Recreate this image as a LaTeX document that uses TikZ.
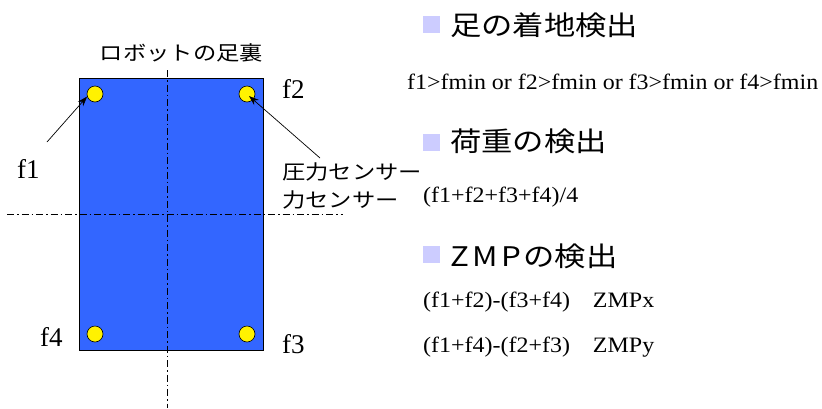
\documentclass[tikz,border=0pt]{standalone}
\usepackage{fontspec}
\usepackage{graphicx}
\setmainfont{Liberation Serif}
\newfontfamily\jp{Noto Sans CJK JP}
\usetikzlibrary{arrows.meta,calc}
\definecolor{footblue}{HTML}{3366FF}
\definecolor{bulletlav}{HTML}{CCCCFF}
\tikzset{
  sensor/.style={circle,draw=black,line width=0.6pt,fill=yellow,minimum size=16pt,inner sep=0pt},
  axisline/.style={line width=0.7pt,dash pattern=on 7pt off 3pt on 1.5pt off 3pt},
  pointer/.style={line width=0.7pt,-{Stealth[length=10pt,width=7pt]}},
  flabel/.style={anchor=base west,inner sep=0pt,font=\fontsize{27}{27}\selectfont},
  jlabel/.style={anchor=west,inner sep=0pt,font=\jp\fontsize{20}{20}\selectfont},
  title/.style={anchor=west,inner sep=0pt,font=\jp\fontsize{27}{27}\selectfont},
  formula/.style={anchor=base west,inner sep=0pt,font=\fontsize{22}{22}\selectfont},
  bullet/.style={fill=bulletlav,draw=none,minimum size=17pt,inner sep=0pt}
}
\newcommand{\wide}[2]{\scalebox{#1}[1]{#2}}
\begin{document}
\begin{tikzpicture}[x=1pt,y=-1pt]
\useasboundingbox (0,0) rectangle (822,408);
% foot sole
\node[draw=black,line width=0.8pt,fill=footblue,minimum width=184pt,minimum height=272pt,inner sep=0pt,anchor=north west] (foot) at (79,78) {};
\coordinate (vtop) at (167,70);
\coordinate (vbot) at (167,408);
\coordinate (hl) at (7,214);
\coordinate (hr) at (343,214);
\draw[axisline] (vtop) -- (vbot);
\draw[axisline] (hl) -- (hr);
% sensors
\node[sensor] (s1) at (95,94) {};
\node[sensor] (s2) at (247,94) {};
\node[sensor] (s3) at (247,334) {};
\node[sensor] (s4) at (95,334) {};
% labels
\node[jlabel,anchor=center] (soletitle) at (181.5,53) {\wide{1.165}{ロボットの足裏}};
\node[flabel] (f1) at (17,178) {f1};
\node[flabel] (f2) at (282,98) {f2};
\node[flabel] (f4) at (40,346) {f4};
\node[flabel] (f3) at (282,353) {f3};
\node[jlabel] (press) at (282,172) {\wide{1.165}{圧力センサー}};
\node[jlabel] (force) at (282,200) {\wide{1.165}{力センサー}};
% pointers
\coordinate (a1) at (47,142);
\coordinate (a2) at (320,158);
\draw[pointer] (a1) -- (s1.198);
\draw[pointer] (a2) -- ($(s2.center)+(2,2)$);
% right side
\node[bullet] (b1) at (431.5,24.5) {};
\node[title] (t1) at (450,25) {\wide{1.16}{足の着地検出}};
\node[formula] (e1) at (407,89) {\wide{1.09}{f1>fmin or f2>fmin or f3>fmin or f4>fmin}};
\node[bullet] (b2) at (431.5,142.5) {};
\node[title] (t2) at (450,141) {\wide{1.16}{荷重の検出}};
\node[formula] (e2) at (423,202) {\wide{1.09}{(f1+f2+f3+f4)/4}};
\node[bullet] (b3) at (431.5,254.5) {};
\node[title] (t3) at (450,256) {\wide{1.16}{Z\kern3pt M\kern3pt P\kern2pt の検出}};
\node[formula] (e3) at (423,307) {\wide{1.09}{(f1+f2)-(f3+f4)\hspace{21pt}ZMPx}};
\node[formula] (e4) at (423,352) {\wide{1.09}{(f1+f4)-(f2+f3)\hspace{21pt}ZMPy}};
\end{tikzpicture}
\end{document}
